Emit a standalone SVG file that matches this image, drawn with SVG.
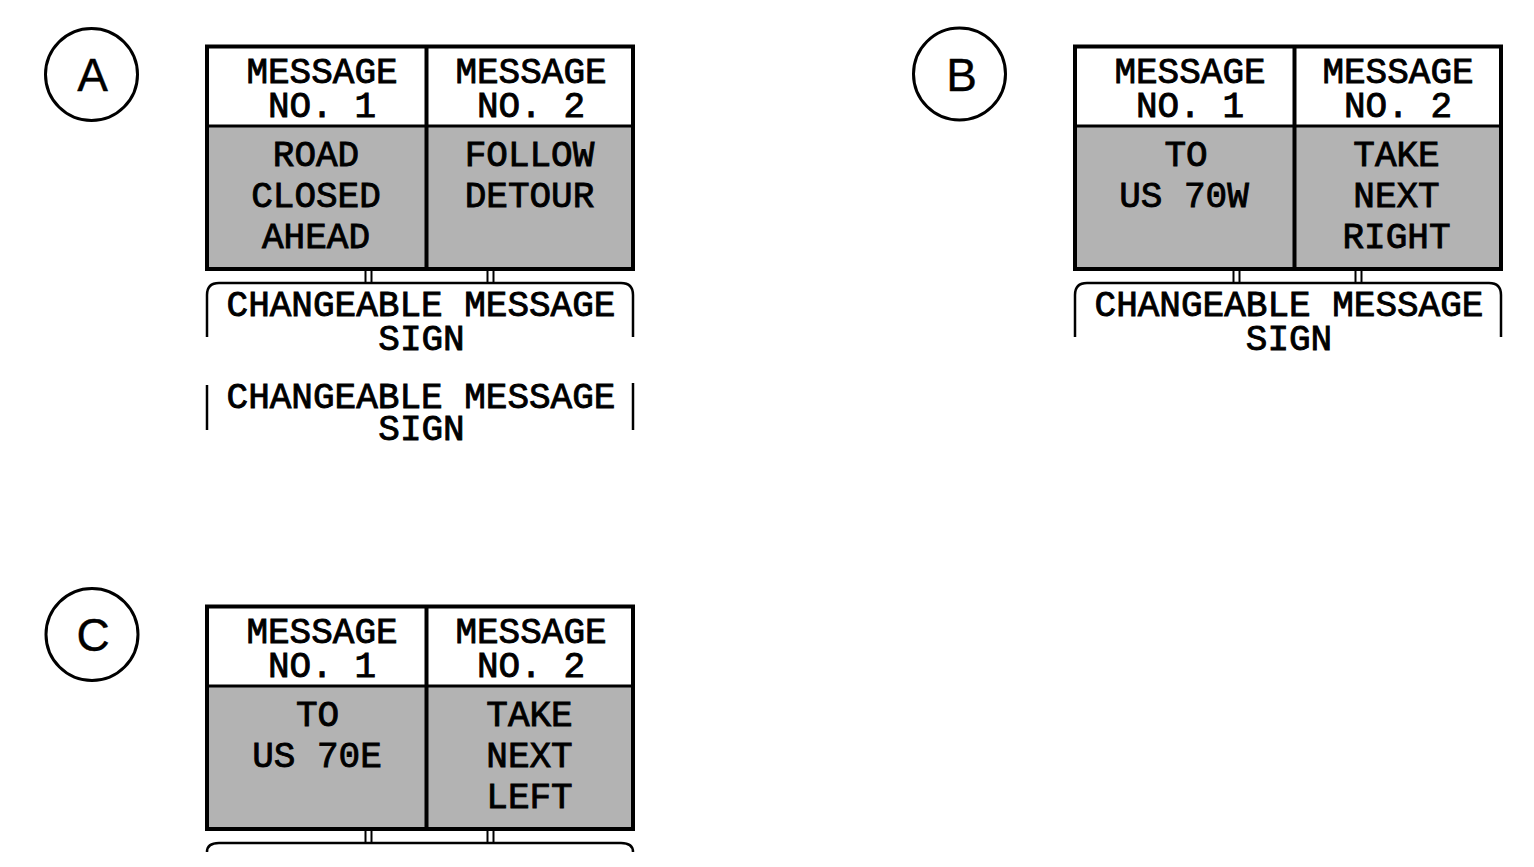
<svg xmlns="http://www.w3.org/2000/svg" xmlns:xlink="http://www.w3.org/1999/xlink" width="1534" height="867" viewBox="0 0 1534 867">
<style>
.bg{fill:#fff}
.gray{fill:#b3b3b3}
.edge{fill:none;stroke:#000;stroke-width:4}
.hdiv{fill:none;stroke:#000;stroke-width:3}
.leg{fill:none;stroke:#000;stroke-width:2}
.brk{fill:none;stroke:#000;stroke-width:2.5}
.circ{fill:none;stroke:#000;stroke-width:3}
.t{font-family:"Liberation Mono","DejaVu Sans Mono",monospace;font-size:36px;font-weight:normal;text-anchor:middle;fill:#000;stroke:#000;stroke-width:0.9}
.lbl{font-family:"Liberation Sans",Arial,sans-serif;font-size:46px;text-anchor:middle;fill:#000;stroke:#000;stroke-width:0.4}
</style>
<defs>
<g id="frame">
<rect class="bg" x="207" y="46.5" width="426" height="79.5"/>
<rect class="gray" x="207" y="126" width="426" height="143"/>
<line class="hdiv" x1="207" y1="126" x2="633" y2="126"/>
<rect class="edge" x="207" y="46.5" width="426" height="222.5"/>
<line class="edge" x1="426.5" y1="46.5" x2="426.5" y2="269"/>
<line class="leg" x1="365.5" y1="271" x2="365.5" y2="283"/>
<line class="leg" x1="371.5" y1="271" x2="371.5" y2="283"/>
<line class="leg" x1="487.5" y1="271" x2="487.5" y2="283"/>
<line class="leg" x1="493.5" y1="271" x2="493.5" y2="283"/>
</g>
</defs>
<rect x="0" y="0" width="1534" height="867" fill="#fff"/>

<g id="panel-A">
<circle class="circ" cx="91.5" cy="74.5" r="46"/>
<text class="lbl" x="92.5" y="91">A</text>
<use xlink:href="#frame"/>
<path class="brk" d="M207,337 V295 Q207,283 219,283 H621 Q633,283 633,295 V337"/>
<text class="t" x="322" y="83">MESSAGE</text>
<text class="t" x="322" y="116.5">NO. 1</text>
<text class="t" x="531" y="83">MESSAGE</text>
<text class="t" x="531" y="116.5">NO. 2</text>
<text class="t" x="316" y="165.5">ROAD</text>
<text class="t" x="316" y="206.5">CLOSED</text>
<text class="t" x="316" y="247.5">AHEAD</text>
<text class="t" x="529.5" y="165.5">FOLLOW</text>
<text class="t" x="529.5" y="206.5">DETOUR</text>
<text class="t" x="421" y="316">CHANGEABLE MESSAGE</text>
<text class="t" x="421.5" y="349.5">SIGN</text>
</g>

<g id="panel-A-label2">
<line class="brk" x1="207" y1="385" x2="207" y2="430"/>
<line class="brk" x1="633" y1="383" x2="633" y2="430"/>
<text class="t" x="421" y="408">CHANGEABLE MESSAGE</text>
<text class="t" x="421.5" y="439.5">SIGN</text>
</g>

<g id="panel-B">
<circle class="circ" cx="959.5" cy="74" r="46"/>
<text class="lbl" x="961.5" y="90.5">B</text>
<g transform="translate(868,0)"><use xlink:href="#frame"/>
<path class="brk" d="M207,337 V295 Q207,283 219,283 H621 Q633,283 633,295 V337"/></g>
<text class="t" x="1190" y="83">MESSAGE</text>
<text class="t" x="1190" y="116.5">NO. 1</text>
<text class="t" x="1398" y="83">MESSAGE</text>
<text class="t" x="1398" y="116.5">NO. 2</text>
<text class="t" x="1186" y="165.5">TO</text>
<text class="t" x="1184" y="206.5">US 70W</text>
<text class="t" x="1396.5" y="165.5">TAKE</text>
<text class="t" x="1396.5" y="206.5">NEXT</text>
<text class="t" x="1396.5" y="247.5">RIGHT</text>
<text class="t" x="1289" y="316">CHANGEABLE MESSAGE</text>
<text class="t" x="1289" y="349.5">SIGN</text>
</g>

<g id="panel-C">
<circle class="circ" cx="92" cy="634.5" r="46"/>
<text class="lbl" x="93" y="650.5">C</text>
<g transform="translate(0,560)"><use xlink:href="#frame"/>
<path class="brk" d="M207,292 Q207,283 219,283 H621 Q633,283 633,292"/></g>
<text class="t" x="322" y="643">MESSAGE</text>
<text class="t" x="322" y="676.5">NO. 1</text>
<text class="t" x="531" y="643">MESSAGE</text>
<text class="t" x="531" y="676.5">NO. 2</text>
<text class="t" x="317.5" y="725.5">TO</text>
<text class="t" x="317" y="766.5">US 70E</text>
<text class="t" x="529.5" y="725.5">TAKE</text>
<text class="t" x="529.5" y="766.5">NEXT</text>
<text class="t" x="529.5" y="807.5">LEFT</text>
</g>
</svg>
